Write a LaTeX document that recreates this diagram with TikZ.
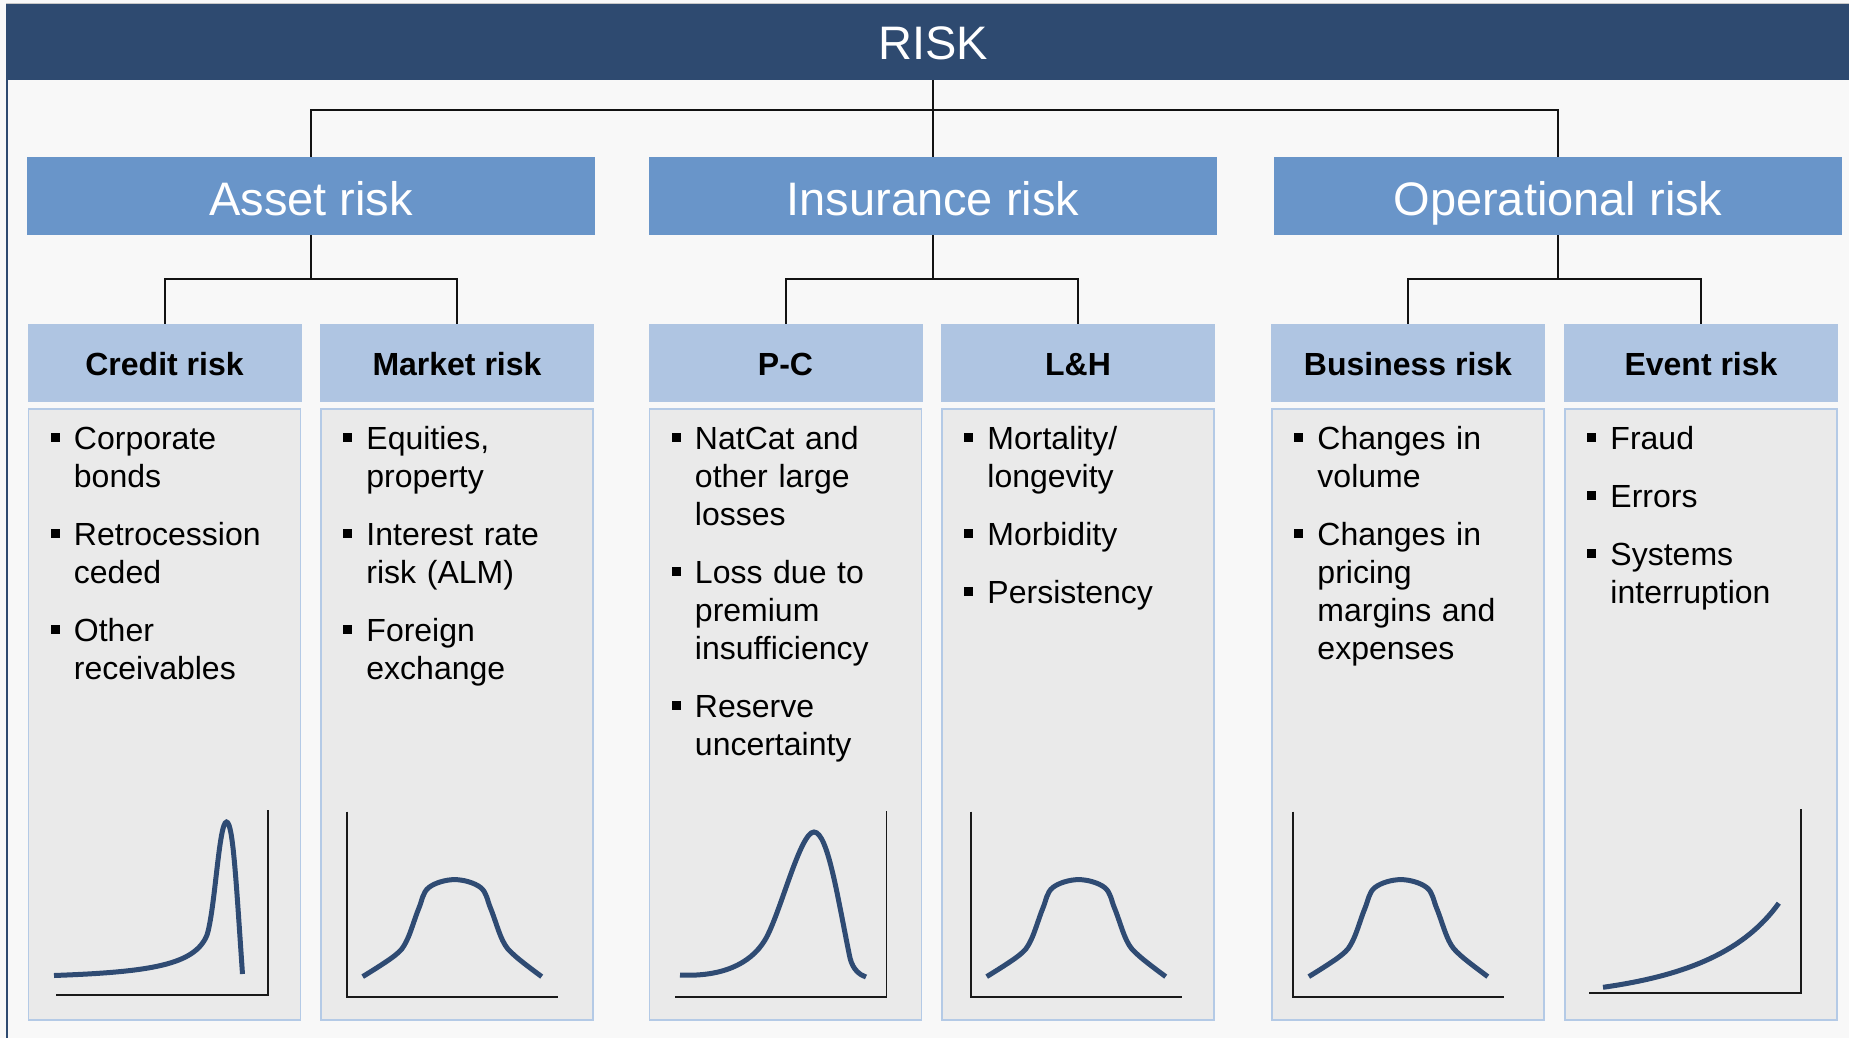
\documentclass[tikz,border=0pt]{standalone}
\usepackage{fontspec}
\setmainfont{Liberation Sans}
\usetikzlibrary{positioning}

\definecolor{riskbar}{HTML}{2E4A70}
\definecolor{mainblue}{HTML}{6995C9}
\definecolor{subblue}{HTML}{AFC5E2}
\definecolor{listgray}{HTML}{EAEAEA}
\definecolor{listedge}{HTML}{B4CAE6}
\definecolor{curveblue}{HTML}{2F4B73}
\definecolor{paper}{HTML}{F8F8F8}

\newcommand{\riskitem}[1]{\noindent\hangindent=23pt\hangafter=1\makebox[23pt][l]{\rule[7.5pt]{9pt}{9pt}}\strut#1\par}

\tikzset{
	topbar/.style={fill=riskbar, text=white, inner sep=0, minimum width=1854pt, minimum height=76pt,
		font=\fontsize{47}{56}\selectfont, text height=36pt, text depth=0pt},
	mainbox/.style={fill=mainblue, text=white, inner sep=0, minimum width=568pt, minimum height=78pt,
		font=\fontsize{47}{56}\selectfont, text height=38pt, text depth=0pt},
	subbox/.style={fill=subblue, inner sep=0, minimum width=274pt, minimum height=78pt,
		font=\bfseries\fontsize{32}{38}\selectfont, text height=25pt, text depth=0pt},
	listbox/.style={fill=listgray, draw=listedge, line width=1.5pt, inner sep=0, minimum width=272pt, minimum height=611pt},
	listtext/.style={anchor=north west, inner sep=0, text width=240pt, align=left,
		font=\fontsize{32}{38}\selectfont\setlength{\parskip}{20pt}},
	link/.style={draw=black!93, line width=2pt},
	axis/.style={draw=black!90, line width=1.8pt},
	dist/.style={draw=curveblue, line width=5pt},
	bell/.pic={
		\draw[axis] (-108,-68) -- (-108,117) -- (103,117);
		\draw[dist] plot[smooth, tension=0.6] coordinates {(-92,97) (-60,76) (-48,61) (-36,29) (-26,8) (0,0) (26,8) (36,29) (48,61) (60,76) (87,97)};
	}
}

\begin{document}
\begin{tikzpicture}[x=1pt,y=-1pt]
	\useasboundingbox (0,0) rectangle (1849,1038);
	\fill[paper] (0,0) rectangle (1849,1038);
	\draw[black!22, line width=1pt] (6,3.5) -- (1849,3.5);
	\fill[riskbar] (6,80) rectangle (8,1038);

	% RISK -> three main groups
	\node[topbar] (Risk) at (933,42) {RISK};
	\node[mainbox] (Asset) at (311,196) {Asset risk};
	\node[mainbox] (Ins) at (933,196) {Insurance risk};
	\node[mainbox] (Op) at (1558,196) {Operational risk};

	\draw[link] (Risk.south) -- ++(0,30) -| (Asset.north);
	\draw[link] (Risk.south) -- ++(0,30) -| (Op.north);
	\draw[link] (Risk.south) -- (Ins.north);

	\node[subbox] (Credit) at (164.5,363) {Credit risk};
	\node[subbox] (Market) at (457,363) {Market risk};
	\node[subbox] (PC) at (785.5,363) {P-C};
	\node[subbox] (LH) at (1078,363) {L\&H};
	\node[subbox] (Business) at (1408,363) {Business risk};
	\node[subbox] (Event) at (1701,363) {Event risk};

	\draw[link] (Asset.south) -- ++(0,44) -| (Credit.north);
	\draw[link] (Asset.south) -- ++(0,44) -| (Market.north);
	\draw[link] (Ins.south) -- ++(0,44) -| (PC.north);
	\draw[link] (Ins.south) -- ++(0,44) -| (LH.north);
	\draw[link] (Op.south) -- ++(0,44) -| (Business.north);
	\draw[link] (Op.south) -- ++(0,44) -| (Event.north);

	\node[listbox, below=6pt of Credit] (CreditList) {};
	\node[listbox, below=6pt of Market] (MarketList) {};
	\node[listbox, below=6pt of PC] (PCList) {};
	\node[listbox, below=6pt of LH] (LHList) {};
	\node[listbox, below=6pt of Business] (BusinessList) {};
	\node[listbox, below=6pt of Event] (EventList) {};

	\node[listtext] (CreditText) at ([xshift=23pt,yshift=-14.5pt]CreditList.north west) {%
		\riskitem{Corporate\newline bonds}
		\riskitem{Retrocession\newline ceded}
		\riskitem{Other\newline receivables}};
	\node[listtext] (MarketText) at ([xshift=23pt,yshift=-14.5pt]MarketList.north west) {%
		\riskitem{Equities,\newline property}
		\riskitem{Interest rate\newline risk (ALM)}
		\riskitem{Foreign\newline exchange}};
	\node[listtext] (PCText) at ([xshift=23pt,yshift=-14.5pt]PCList.north west) {%
		\riskitem{NatCat and\newline other large\newline losses}
		\riskitem{Loss due to\newline premium\newline insufficiency}
		\riskitem{Reserve\newline uncertainty}};
	\node[listtext] (LHText) at ([xshift=23pt,yshift=-14.5pt]LHList.north west) {%
		\riskitem{Mortality/\newline longevity}
		\riskitem{Morbidity}
		\riskitem{Persistency}};
	\node[listtext] (BusinessText) at ([xshift=23pt,yshift=-14.5pt]BusinessList.north west) {%
		\riskitem{Changes in\newline volume}
		\riskitem{Changes in\newline pricing\newline margins and\newline expenses}};
	\node[listtext] (EventText) at ([xshift=23pt,yshift=-14.5pt]EventList.north west) {%
		\riskitem{Fraud}
		\riskitem{Errors}
		\riskitem{Systems\newline interruption}};

	% small distribution sketches
	\draw[axis] (56,995) -- (267.7,995) -- (267.7,810);
	\draw[dist] (54,975.5) .. controls (150,972) and (195,965) .. (207,935)
		.. controls (215,910) and (219,822) .. (226.5,822)
		.. controls (233,822) and (236,880) .. (242.5,974);

	\pic at (454.7,879.6) {bell};

	\draw[axis] (675.4,996.6) -- (886.5,996.6) -- (886.5,811);
	\draw[dist] (680,975) .. controls (720,977) and (750,965) .. (765,940)
		.. controls (780,915) and (800,832) .. (814,832)
		.. controls (828,832) and (838,900) .. (850,958)
		.. controls (853,970) and (860,975) .. (866,977);

	\pic at (1078.7,879.6) {bell};
	\pic at (1400.8,879.6) {bell};

	\draw[axis] (1589,993) -- (1800.6,993) -- (1800.6,809);
	\draw[dist] (1603,987.3) .. controls (1690,975) and (1745,950) .. (1778.8,903.2);
\end{tikzpicture}
\end{document}
